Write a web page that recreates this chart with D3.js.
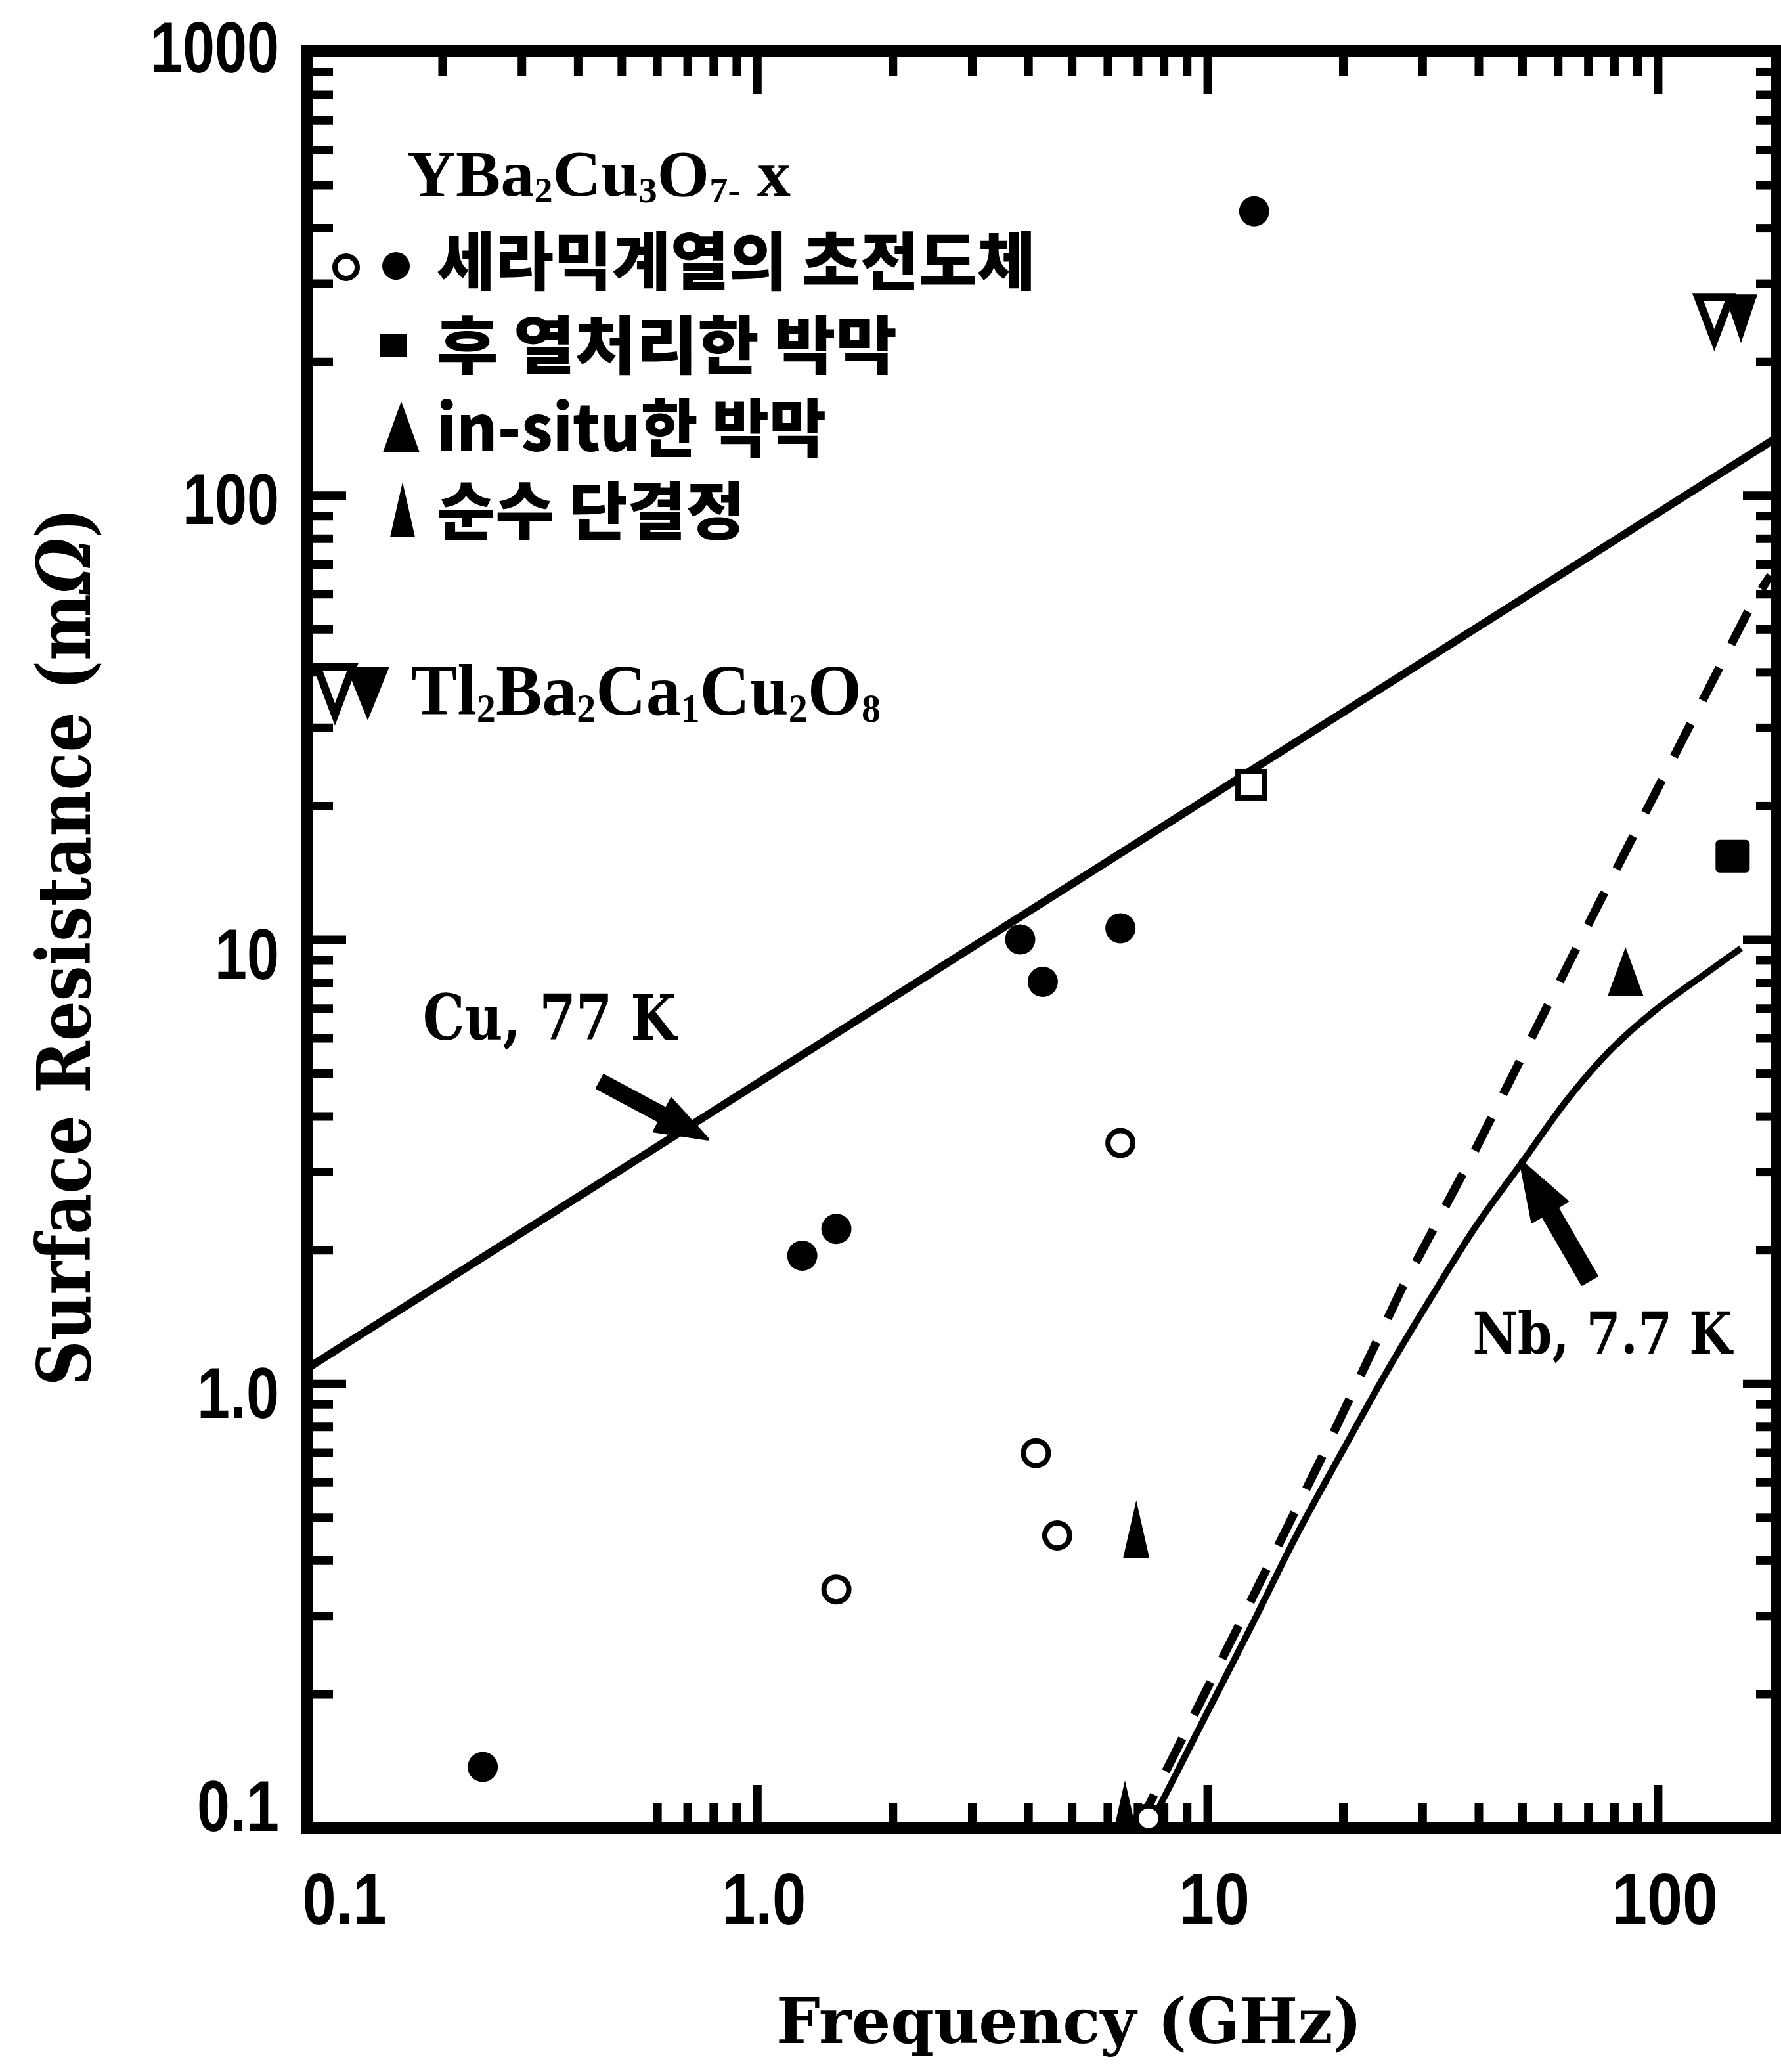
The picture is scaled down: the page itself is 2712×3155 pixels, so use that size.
<!DOCTYPE html>
<html><head><meta charset="utf-8">
<script src="https://cdn.jsdelivr.net/npm/d3@7"></script>
<style>html,body{margin:0;padding:0;background:#fff;} svg{display:block;}</style>
</head><body>
<svg id="chart" width="2712" height="3155" xmlns="http://www.w3.org/2000/svg"></svg>
<script>
// ---------------- data (frequency GHz, surface resistance mΩ) ----------------
const ceramicFilled = [[0.246,0.137],[1.26,1.94],[1.50,2.23],[3.84,10.0],[4.31,8.03],[6.41,10.6],[12.7,436]];
const ceramicOpen = [[1.50,0.344],[4.16,0.697],[4.64,0.455],[6.41,3.48],[7.4,0.105]];
const ceramicOpenSquare = [[12.5,22.3]];
const postAnnealedFilm = [[146.6,15.4]];
const inSituFilm = [[84.8,8.48]];
const singleCrystal = [[6.95,0.47],[6.56,0.11]];
const tlOpen = [[133.5,250]];
const tlFilled = [[153,250]];
const cuLine = [[0.1,1.08],[184,135]];
const nbSolid = [[7.41,0.1],[10,0.182],[12.6,0.288],[15.8,0.457],[20.0,0.708],[25.1,1.07],[31.6,1.58],[39.8,2.29],[50.1,3.16],[63.1,4.37],[79.4,5.7],[100,7.0],[126,8.3],[153,9.55]];
const nbDashed = [[7.0,0.1],[11.93,0.295],[18.16,0.699],[26.8,1.61],[39.0,3.30],[72.9,11.7],[163,57.8],[178,66]];
const cuArrow = [[0.449,4.78],[0.778,3.55]];   // tail, tip
const nbArrow = [[70.5,1.71],[49.5,3.18]];
const cuLabelAt = [0.181,5.95];
const nbLabelAt = [38.8,1.17];

const xTickValues = [0.1,1,10,100];
const xTickLabels = ['0.1','1.0','10','100'];
const yTickValues = [0.1,1,10,100,1000];
const yTickLabels = ['0.1','1.0','10','100','1000'];
const xMinorTop = [0.2,0.3,0.4,0.5,0.6,0.7,0.8,0.9,2,3,4,5,6,7,8,9,20,30,40,50,60,70,80,90];
const xMinorBottom = [0.6,0.7,0.8,0.9,2,3,4,5,6,7,8,9,20,30,40,50,60,70,80,90];
const yMinor = [0.2,0.3,0.4,0.5,0.6,0.7,0.8,0.9,2,3,4,5,6,7,8,9,20,30,40,50,60,70,80,90,200,300,400,500,600,700,800,900];

const legendRows = ['세라믹계열의 초전도체','후 열처리한 박막','in-situ한 박막','순수 단결정'];
const xTitle = 'Frequency (GHz)';
const yTitle = 'Surface Resistance (mΩ)';
const cuLabel = 'Cu, 77 K';
const nbLabel = 'Nb, 7.7 K';

// ---------------- layout ----------------
const X0 = 467, X1 = 2706, Y0 = 78, Y1 = 2783;
const svg = d3.select('#chart');
const x = d3.scaleLog().domain([0.1,184]).range([X0,X1]);
const y = d3.scaleLog().domain([0.1,1000]).range([Y1,Y0]);
const SERIF = "'DejaVu Serif', serif";
const TIMES = "'Liberation Serif', 'Times New Roman', serif";
const SANS = "'Liberation Sans', Arial, sans-serif";
const KR = "'Noto Sans CJK KR', 'Noto Sans CJK SC', sans-serif";

svg.append('rect').attr('width',2712).attr('height',3155).attr('fill','#fff');

// ---------------- ticks ----------------
function ticks(gen, vals, size, tr) {
  const g = svg.append('g').attr('transform', tr)
    .call(gen.tickValues(vals).tickSize(size).tickFormat(''));
  g.select('.domain').remove();
  g.selectAll('.tick line').attr('stroke','#000').attr('stroke-width',13);
  return g;
}
ticks(d3.axisBottom(x), xMinorBottom, -38, `translate(0,${Y1})`);
ticks(d3.axisTop(x), xMinorTop, -38, `translate(0,${Y0})`);
ticks(d3.axisTop(x), xTickValues.slice(1), -65, `translate(0,${Y0})`);
ticks(d3.axisLeft(y), yMinor, -40, `translate(${X0},0)`);
ticks(d3.axisLeft(y), yTickValues, -60, `translate(${X0},0)`);
ticks(d3.axisRight(y), yMinor, -32, `translate(${X1},0)`);
ticks(d3.axisRight(y), yTickValues, -52, `translate(${X1},0)`);

// bottom major ticks + labels
const gxb = svg.append('g').attr('transform',`translate(0,${Y1})`)
  .call(d3.axisBottom(x).tickValues(xTickValues).tickSize(-65).tickFormat((d,i)=>xTickLabels[i]));
gxb.select('.domain').remove();
gxb.selectAll('.tick line').attr('stroke','#000').attr('stroke-width',13);
gxb.attr('font-size',112).attr('font-family',SANS).attr('font-weight','bold');
gxb.selectAll('.tick text').each(function(d,i){
  const s = xTickLabels[i];
  const len = s.split('').reduce((a,c)=>a+(c==='.'?20:54),0);
  d3.select(this).attr('fill','#000').attr('y',147).attr('dy',null)
    .attr('text-anchor', i===0?'start':'middle').attr('x', i===0?-7:10)
    .attr('textLength',len).attr('lengthAdjust','spacingAndGlyphs');
});

// left labels
const yNudge = [-35,12,20,4,-8];
const gyl = svg.append('g').attr('transform',`translate(${X0},0)`)
  .call(d3.axisLeft(y).tickValues(yTickValues).tickSize(0).tickFormat((d,i)=>yTickLabels[i]));
gyl.select('.domain').remove();
gyl.selectAll('.tick line').remove();
gyl.attr('font-size',110).attr('font-family',SANS).attr('font-weight','bold');
gyl.selectAll('.tick text').each(function(d,i){
  const s = yTickLabels[i];
  const len = s.split('').reduce((a,c)=>a+(c==='.'?27:49),0);
  d3.select(this).attr('fill','#000').attr('x',-42).attr('y',yNudge[i]).attr('dy','0.36em')
    .attr('text-anchor','end').attr('textLength',len).attr('lengthAdjust','spacingAndGlyphs');
});

// frame
svg.append('rect').attr('x',X0).attr('y',Y0).attr('width',X1-X0).attr('height',Y1-Y0)
  .attr('fill','none').attr('stroke','#000').attr('stroke-width',18);

// ---------------- data marks ----------------
svg.append('clipPath').attr('id','plotclip').append('rect')
  .attr('x',X0).attr('y',Y0).attr('width',X1-X0).attr('height',Y1-Y0);
const plot = svg.append('g').attr('clip-path','url(#plotclip)');
const line = d3.line().x(d=>x(d[0])).y(d=>y(d[1]));

plot.append('path').datum(cuLine).attr('d',line).attr('fill','none').attr('stroke','#000').attr('stroke-width',12);
plot.append('path').datum(nbDashed).attr('d',line).attr('fill','none').attr('stroke','#000')
  .attr('stroke-width',13).attr('stroke-dasharray','56 40');
plot.append('path').datum(nbSolid).attr('d',d3.line().x(d=>x(d[0])).y(d=>y(d[1])).curve(d3.curveCatmullRom.alpha(0.5)))
  .attr('fill','none').attr('stroke','#000').attr('stroke-width',10);

const triUp = (w,h)=>`M0,${-h/2}L${w/2},${h/2}L${-w/2},${h/2}Z`;
const triDown = (w,h)=>`M${-w/2},${-h/2}L${w/2},${-h/2}L0,${h/2}Z`;

plot.selectAll('.cf').data(ceramicFilled).join('circle')
  .attr('cx',d=>x(d[0])).attr('cy',d=>y(d[1])).attr('r',23).attr('fill','#000');
plot.selectAll('.co').data(ceramicOpen).join('circle')
  .attr('cx',d=>x(d[0])).attr('cy',d=>y(d[1])).attr('r',19).attr('fill','#fff')
  .attr('stroke','#000').attr('stroke-width',8);
plot.selectAll('.cs').data(ceramicOpenSquare).join('rect')
  .attr('x',d=>x(d[0])-20).attr('y',d=>y(d[1])-20).attr('width',40).attr('height',40)
  .attr('fill','#fff').attr('stroke','#000').attr('stroke-width',8);
plot.selectAll('.pa').data(postAnnealedFilm).join('rect')
  .attr('x',d=>x(d[0])-26).attr('y',d=>y(d[1])-25).attr('width',52).attr('height',50).attr('rx',6).attr('fill','#000');
plot.selectAll('.is').data(inSituFilm).join('path')
  .attr('transform',d=>`translate(${x(d[0])},${y(d[1])})`).attr('d',triUp(54,74)).attr('fill','#000');
plot.selectAll('.sc').data(singleCrystal).join('path')
  .attr('transform',d=>`translate(${x(d[0])},${y(d[1])})`).attr('d',triUp(40,88)).attr('fill','#000');
plot.selectAll('.tf').data(tlFilled).join('path')
  .attr('transform',d=>`translate(${x(d[0])},${y(d[1])})`).attr('d',triDown(50,74)).attr('fill','#000');
plot.selectAll('.to').data(tlOpen).join('path')
  .attr('transform',d=>`translate(${x(d[0])},${y(d[1])})`).attr('d',triDown(50,66)).attr('fill','#fff')
  .attr('stroke','#000').attr('stroke-width',12).attr('stroke-linejoin','miter');

// ---------------- annotations ----------------
function arrow(pts, shaftW, headL, headW) {
  const [tx,ty] = [x(pts[0][0]), y(pts[0][1])];
  const [px,py] = [x(pts[1][0]), y(pts[1][1])];
  const L = Math.hypot(px-tx,py-ty), ux=(px-tx)/L, uy=(py-ty)/L, nx=-uy, ny=ux;
  const hx = px-ux*headL, hy = py-uy*headL;
  const P = [[tx+nx*shaftW/2,ty+ny*shaftW/2],[hx+nx*shaftW/2,hy+ny*shaftW/2],[hx+nx*headW/2,hy+ny*headW/2],
    [px,py],[hx-nx*headW/2,hy-ny*headW/2],[hx-nx*shaftW/2,hy-ny*shaftW/2],[tx-nx*shaftW/2,ty-ny*shaftW/2]];
  svg.append('path').attr('d','M'+P.map(p=>p.join(',')).join('L')+'Z').attr('fill','#000')
    .attr('stroke','#000').attr('stroke-width',4).attr('stroke-linejoin','round');
}
arrow(cuArrow, 22, 78, 56);
arrow(nbArrow, 26, 90, 62);

svg.append('text').attr('x',x(cuLabelAt[0])).attr('y',y(cuLabelAt[1])).text(cuLabel)
  .attr('font-family',SERIF).attr('font-weight','bold').attr('font-size',96)
  .attr('textLength',386).attr('lengthAdjust','spacingAndGlyphs');
svg.append('text').attr('x',x(nbLabelAt[0])).attr('y',y(nbLabelAt[1])).text(nbLabel)
  .attr('font-family',SERIF).attr('font-weight','bold').attr('font-size',88)
  .attr('textLength',395).attr('lengthAdjust','spacingAndGlyphs');

// ---------------- axis titles ----------------
svg.append('text').attr('x',1628).attr('y',3111).attr('text-anchor','middle').text(xTitle)
  .attr('font-family',SERIF).attr('font-weight','bold').attr('font-size',96)
  .attr('textLength',892).attr('lengthAdjust','spacingAndGlyphs');
const yt = svg.append('text').attr('transform','translate(137,1442) rotate(-90)').attr('text-anchor','middle')
  .attr('font-family',SERIF).attr('font-weight','bold').attr('font-size',112)
  .attr('textLength',1337).attr('lengthAdjust','spacingAndGlyphs');
yt.append('tspan').text(yTitle.slice(0,-2));
yt.append('tspan').attr('font-style','italic').text(yTitle.slice(-2,-1));
yt.append('tspan').text(yTitle.slice(-1));

// ---------------- legend ----------------
function formula(parts, xx, yy, fs, len) {
  const t = svg.append('text').attr('x',xx).attr('y',yy).attr('font-family',TIMES).attr('font-weight','bold')
    .attr('font-size',fs).attr('textLength',len).attr('lengthAdjust','spacingAndGlyphs');
  parts.forEach(p=>{
    const s = t.append('tspan').text(p[0]);
    if (p[1]) s.attr('font-size',fs*0.55).attr('baseline-shift','-18%');
  });
}
formula([['YBa'],['2',1],['Cu'],['3',1],['O'],['7',1],['-',1],[' x']], 620, 298, 100, 584);
formula([['Tl'],['2',1],['Ba'],['2',1],['Ca'],['1',1],['Cu'],['2',1],['O'],['8',1]], 626, 1088, 110, 715);

const rowCY = [397,525,651,777];
const rowLen = [912,701,593,469];
legendRows.forEach((s,i)=>{
  svg.append('text').attr('x',665).attr('y',rowCY[i]+36).text(s)
    .attr('font-family',KR).attr('font-weight',900).attr('font-size',96)
    .attr('textLength',rowLen[i]).attr('lengthAdjust','spacingAndGlyphs');
});
svg.append('circle').attr('cx',527).attr('cy',407).attr('r',17).attr('fill','#fff').attr('stroke','#000').attr('stroke-width',8);
svg.append('circle').attr('cx',603).attr('cy',405).attr('r',21).attr('fill','#000');
svg.append('rect').attr('x',578).attr('y',509).attr('width',42).attr('height',35).attr('fill','#000');
svg.append('path').attr('transform','translate(611,650)').attr('d',triUp(56,78)).attr('fill','#000');
svg.append('path').attr('transform','translate(613,776)').attr('d',triUp(38,84)).attr('fill','#000');
svg.append('path').attr('transform','translate(560,1056)').attr('d',triDown(66,82)).attr('fill','#000');
svg.append('path').attr('transform','translate(510,1052)').attr('d',triDown(54,72)).attr('fill','#fff')
  .attr('stroke','#000').attr('stroke-width',12);
</script>
</body></html>
